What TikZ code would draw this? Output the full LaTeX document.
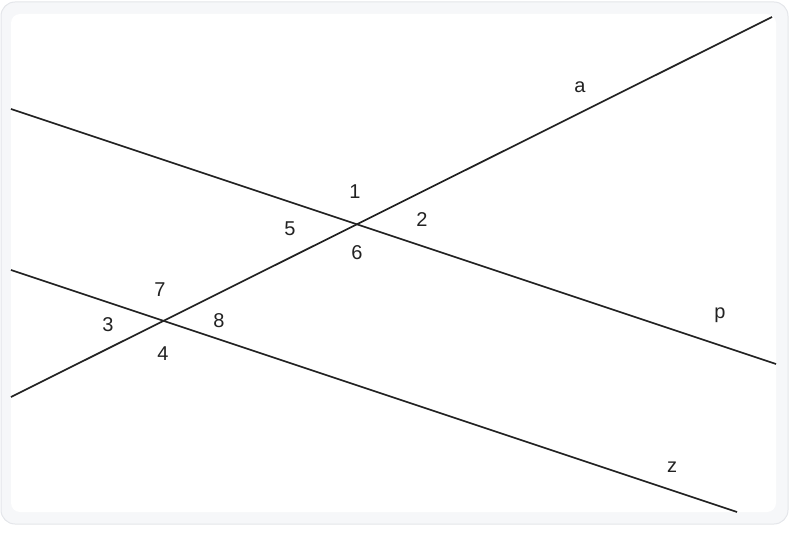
\documentclass[tikz,border=0pt]{standalone}
\usepackage{fontspec}
\setmainfont{Liberation Sans}
\definecolor{outerfill}{HTML}{F6F7F9}
\definecolor{outerline}{HTML}{E4E6EA}
\definecolor{ink}{HTML}{222222}
\begin{document}
\begin{tikzpicture}[x=1pt,y=-1pt,
  geoline/.style={ink, line width=1.7pt},
  lbl/.style={text=ink, font=\fontsize{20}{23}\selectfont, inner sep=0pt}]
\useasboundingbox (0,0) rectangle (795,537);
\filldraw[fill=outerfill, draw=outerline, line width=1pt, rounded corners=14pt] (1,2) rectangle (788,524);
\fill[white, rounded corners=9pt] (11,14) rectangle (776,512);
% line end points
\coordinate (a1) at (11,397);
\coordinate (a2) at (772,17);
\coordinate (p1) at (11,109);
\coordinate (p2) at (776,364);
\coordinate (z1) at (11,270);
\coordinate (z2) at (737,512);
\draw[geoline] (a1) -- (a2);
\draw[geoline] (p1) -- (p2);
\draw[geoline] (z1) -- (z2);
% labels
\node[lbl] (la) at (580,87) {a};
\node[lbl] (lp) at (720,315) {p};
\node[lbl] (lz) at (672,467) {z};
\node[lbl] (n1) at (355,192) {1};
\node[lbl] (n2) at (422,220) {2};
\node[lbl] (n5) at (290,229) {5};
\node[lbl] (n6) at (357,253) {6};
\node[lbl] (n7) at (160,290) {7};
\node[lbl] (n3) at (108,325) {3};
\node[lbl] (n8) at (219,321) {8};
\node[lbl] (n4) at (163,354) {4};
\end{tikzpicture}
\end{document}
